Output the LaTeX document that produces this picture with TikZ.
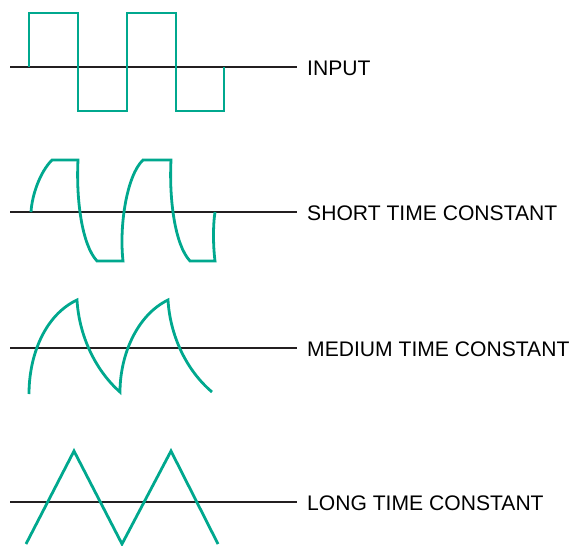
\documentclass[tikz,border=0pt]{standalone}
\usepackage{fontspec}
\setmainfont{Liberation Sans}
\definecolor{zielen}{RGB}{0,168,142}
\definecolor{grafit}{RGB}{35,31,32}
\begin{document}
\begin{tikzpicture}[x=1pt, y=-1pt,
    osx/.style={line width=2.8pt, grafit},
    sygnal/.style={line width=2.8pt, zielen, line join=miter},
    opis/.style={anchor=west, inner sep=0pt, inner xsep=10pt, yshift=-1.5pt,
        font=\fontsize{21.1}{24}\selectfont}]
    \useasboundingbox (0,0) rectangle (569,545);

    % Osie i podpisy
    \coordinate (p1) at (10,67);
    \coordinate (p2) at (10,212);
    \coordinate (p3) at (10,348);
    \coordinate (p4) at (10,502);
    \node[opis] (in)  at (297,67)  {INPUT};
    \node[opis] (sh)  at (297,212) {SHORT TIME CONSTANT};
    \node[opis] (md)  at (297,348) {MEDIUM TIME CONSTANT};
    \node[opis] (lg)  at (297,502) {LONG TIME CONSTANT};
    \draw[osx] (p1) -- (p1 -| in.west);
    \draw[osx] (p2) -- (p2 -| sh.west);
    \draw[osx] (p3) -- (p3 -| md.west);
    \draw[osx] (p4) -- (p4 -| lg.west);

    % Wejscie (prostokat)
    \draw[sygnal] (29,67) -- (29,13) -- (78,13) -- (78,111) -- (127,111)
        -- (127,13) -- (176,13) -- (176,111) -- (224,111) -- (224,67);

    % Mala stala czasowa
    \draw[sygnal] (31,212) .. controls (32,195) and (40,172) .. (52,160) -- (78,160)
        .. controls (76,200) and (82,245) .. (97,261) -- (123,261)
        .. controls (119,225) and (127,175) .. (143,160) -- (171,160)
        .. controls (169,200) and (175,245) .. (190,261) -- (215,261)
        .. controls (213,245) and (213,225) .. (215,212);

    % Srednia stala czasowa
    \draw[sygnal] (29,394) .. controls (29,355) and (45,315) .. (77,300)
        .. controls (79,335) and (95,370) .. (120,392)
        .. controls (120,355) and (137,315) .. (168,300)
        .. controls (170,335) and (186,370) .. (212,392);

    % Duza stala czasowa (trojkat)
    \draw[sygnal] (26,544) -- (74,451) -- (122,544) -- (171,451) -- (218,544);
\end{tikzpicture}
\end{document}
